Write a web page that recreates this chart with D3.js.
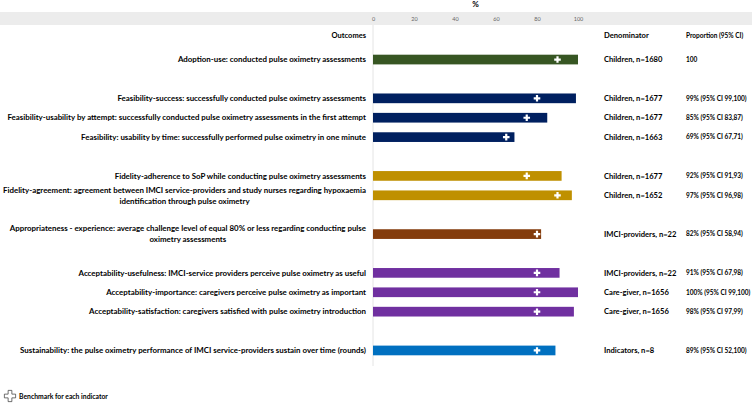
<!DOCTYPE html>
<html>
<head>
<meta charset="utf-8">
<script src="https://cdn.jsdelivr.net/npm/d3@7"></script>
<style>
  body { margin: 0; background: #fff; }
  svg { display: block; font-family: Lato, "Open Sans", sans-serif; }
</style>
</head>
<body>
<svg></svg>
<script>
let width = 752
let height = 403

// chart data
let outcomes = [
  "Adoption-use: conducted pulse oximetry assessments",
  "Feasibility-success: successfully conducted pulse oximetry assessments",
  "Feasibility-usability by attempt: successfully conducted pulse oximetry assessments in the first attempt",
  "Feasibility: usability by time: successfully performed pulse oximetry in one minute",
  "Fidelity-adherence to SoP while conducting pulse oximetry assessments",
  "Fidelity-agreement: agreement between IMCI service-providers and study nurses regarding hypoxaemia\nidentification through pulse oximetry",
  "Appropriateness - experience: average challenge level of equal 80% or less regarding conducting pulse\noximetry assessments",
  "Acceptability-usefulness: IMCI-service providers perceive pulse oximetry as useful",
  "Acceptability-importance: caregivers perceive pulse oximetry as important",
  "Acceptability-satisfaction: caregivers satisfied with pulse oximetry introduction",
  "Sustainability: the pulse oximetry performance of IMCI service-providers sustain over time (rounds)"
]
let groups = ["Adoption", "Feasibility", "Feasibility", "Feasibility", "Fidelity", "Fidelity",
  "Appropriateness", "Acceptability", "Acceptability", "Acceptability", "Sustainability"]
let values = [100, 99, 85, 69, 92, 97, 82, 91, 100, 98, 89]
let benchmarks = [90, 80, 75, 65, 75, 90, 80, 80, 80, 80, 80]
let denominators = ["Children, n=1680", "Children, n=1677", "Children, n=1677", "Children, n=1663",
  "Children, n=1677", "Children, n=1652", "IMCI-providers, n=22", "IMCI-providers, n=22",
  "Care-giver, n=1656", "Care-giver, n=1656", "Indicators, n=8"]
let proportions = ["100", "99% (95% CI 99,100)", "85% (95% CI 83,87)", "69% (95% CI 67,71)",
  "92% (95% CI 91,93)", "97% (95% CI 96,98)", "82% (95% CI 58,94)", "91% (95% CI 67,98)",
  "100% (95% CI 99,100)", "98% (95% CI 97,99)", "89% (95% CI 52,100)"]
let groupNames = ["Adoption", "Feasibility", "Fidelity", "Appropriateness", "Acceptability", "Sustainability"]
let xTicks = [0, 20, 40, 60, 80, 100]

let svg = d3.select("svg").attr("width", width).attr("height", height)

let rows = outcomes.map((o, i) => ({
  label: o, group: groups[i], value: values[i], bench: benchmarks[i],
  denom: denominators[i], prop: proportions[i], key: "r" + i
}))

// empty slot between groups
let slots = []
rows.forEach((r, i) => {
  if (i > 0 && r.group != rows[i - 1].group) slots.push("gap" + i)
  slots.push(r.key)
})

let xScale = d3.scaleLinear().domain([0, 100]).range([373, 578])
let yScale = d3.scaleBand().domain(slots).range([45, 365]).padding(0.5)
let color = d3.scaleOrdinal().domain(groupNames)
  .range(["#375623", "#002060", "#bf9000", "#843c0c", "#7030a0", "#0070c0"])

// header band
svg.append("rect").attr("x", 0).attr("y", 12).attr("width", width).attr("height", 13).attr("fill", "#ececec")
svg.append("text").attr("x", xScale(50)).attr("y", 7).attr("text-anchor", "middle")
  .attr("font-size", 8).attr("font-weight", "bold").text("%")

let xAxis = d3.axisTop(xScale).tickValues(xTicks).tickSize(0).tickPadding(0)
let gx = svg.append("g").attr("transform", "translate(0,21)").call(xAxis)
gx.select(".domain").remove()
gx.selectAll("text").attr("font-size", 5.5).attr("fill", "#666").attr("font-family", "Lato, sans-serif")

// axis line at 0
svg.append("line").attr("x1", xScale(0)).attr("x2", xScale(0)).attr("y1", 25).attr("y2", 366)
  .attr("stroke", "#e4e4e4").attr("stroke-width", 1)

// column headers
svg.append("text").attr("x", 366).attr("y", 38).attr("text-anchor", "end")
  .attr("font-size", 7.5).attr("font-weight", "bold").text("Outcomes")
svg.append("text").attr("x", 604).attr("y", 38)
  .attr("font-size", 7.6).attr("font-weight", "bold").text("Denominator")
svg.append("text").attr("x", 686).attr("y", 38)
  .attr("font-size", 6.5).attr("font-weight", "bold").text("Proportion (95% CI)")

// bars
svg.selectAll(".bar").data(rows).enter().append("rect")
  .attr("class", "bar")
  .attr("x", xScale(0))
  .attr("y", (d) => yScale(d.key))
  .attr("width", (d) => xScale(d.value) - xScale(0))
  .attr("height", yScale.bandwidth())
  .attr("fill", (d) => color(d.group))

// benchmark markers
let plus = d3.symbol().type(d3.symbolCross).size(24)
svg.selectAll(".bench").data(rows).enter().append("path")
  .attr("class", "bench")
  .attr("d", plus)
  .attr("transform", (d) => "translate(" + xScale(d.bench) + "," + (yScale(d.key) + yScale.bandwidth() / 2) + ")")
  .attr("fill", "#fff")

// outcome labels
let labels = svg.selectAll(".label").data(rows).enter().append("text")
  .attr("class", "label")
  .attr("font-size", 7.9).attr("font-weight", "bold")
  .attr("y", (d) => yScale(d.key) + yScale.bandwidth() / 2)

labels.each(function (d) {
  let lines = d.label.split("\n")
  let t = d3.select(this)
  if (lines.length == 1) {
    t.attr("x", 366).attr("text-anchor", "end").attr("dy", "0.35em").text(lines[0])
  } else {
    t.append("tspan").attr("x", 366).attr("text-anchor", "end").attr("dy", "-0.35em").text(lines[0])
    // second line centred under the first
    let w = this.getComputedTextLength()
    t.append("tspan").attr("x", 366 - w / 2).attr("text-anchor", "middle").attr("dy", "1.4em").text(lines[1])
  }
})

svg.selectAll(".denom").data(rows).enter().append("text")
  .attr("class", "denom")
  .attr("x", 604).attr("y", (d) => yScale(d.key) + yScale.bandwidth() / 2).attr("dy", "0.35em")
  .attr("font-size", 7.6).attr("font-weight", "bold").text((d) => d.denom)

svg.selectAll(".prop").data(rows).enter().append("text")
  .attr("class", "prop")
  .attr("x", 686).attr("y", (d) => yScale(d.key) + yScale.bandwidth() / 2).attr("dy", "0.35em")
  .attr("font-size", 6.5).attr("font-weight", "bold").text((d) => d.prop)

// legend
svg.append("path").attr("d", d3.symbol().type(d3.symbolCross).size(70))
  .attr("transform", "translate(10,396)")
  .attr("fill", "#fff").attr("stroke", "#333").attr("stroke-width", 0.7)
svg.append("text").attr("x", 19).attr("y", 398.5)
  .attr("font-size", 6.8).attr("font-weight", "bold").text("Benchmark for each indicator")
</script>
</body>
</html>
